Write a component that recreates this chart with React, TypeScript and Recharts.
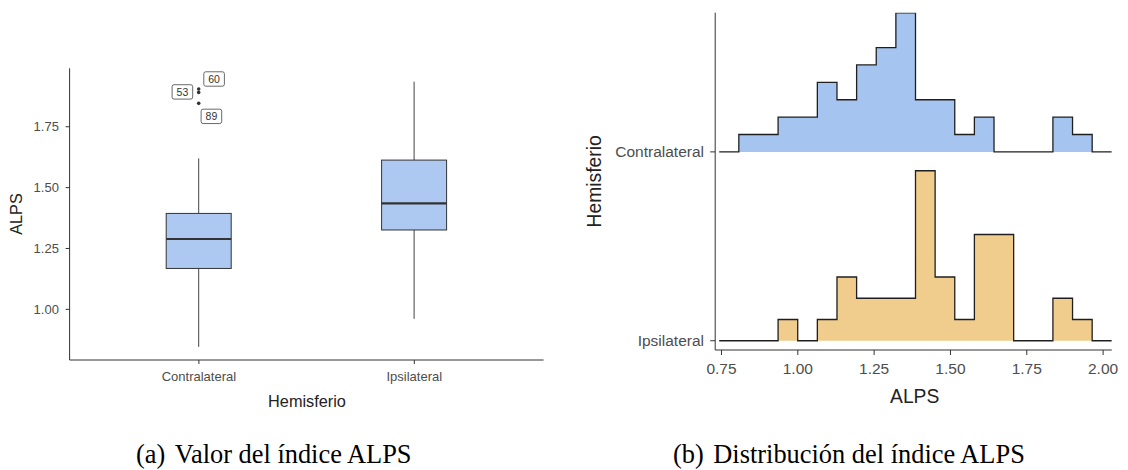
import { ComposedChart, Bar, Area, XAxis, YAxis } from 'recharts';

// Panel (a): boxplot summary per hemisphere
const hemispheres = ['Contralateral', 'Ipsilateral'];
const whiskerLow = [0.846, 0.961];
const quartile1 = [1.168, 1.326];
const medians = [1.289, 1.435];
const quartile3 = [1.394, 1.613];
const whiskerHigh = [1.62, 1.935];

const outlierValues = [1.905, 1.891, 1.846];
const outlierIds = ['60', '53', '89'];
const outlierGroup = ['Contralateral', 'Contralateral', 'Contralateral'];

const alpsTicks = [1.0, 1.25, 1.5, 1.75];

// Panel (b): binned counts per hemisphere (20 bins)
const binStart = 0.7425;
const binWidth = 0.0643;
const contralateralCounts = [0, 1, 1, 2, 2, 4, 3, 5, 6, 8, 3, 3, 1, 2, 0, 0, 0, 2, 1, 0];
const ipsilateralCounts = [0, 0, 0, 1, 0, 1, 3, 2, 2, 2, 8, 3, 1, 5, 5, 0, 0, 2, 1, 0];
const ridgeTicks = [0.75, 1.0, 1.25, 1.5, 1.75, 2.0];

const SANS = "'Liberation Sans', Arial, sans-serif";
const SERIF = "'Liberation Serif', 'Times New Roman', serif";
const AXIS = '#333333';
const TICK_TEXT = '#4d4d4d';

const boxData = hemispheres.map((name, i) => ({
  name,
  box: [quartile1[i], quartile3[i]],
  low: whiskerLow[i],
  q1: quartile1[i],
  median: medians[i],
  q3: quartile3[i],
  high: whiskerHigh[i],
  outliers: outlierValues
    .map((value, j) => ({ value, id: outlierIds[j], group: outlierGroup[j] }))
    .filter((o) => o.group === name),
}));

const toDensity = (counts: number[]) => {
  const n = counts.reduce((a, b) => a + b, 0);
  return counts.map((c) => c / (n * binWidth));
};
const contraDensity = toDensity(contralateralCounts);
const ipsiDensity = toDensity(ipsilateralCounts);
const peakDensity = Math.max(...contraDensity, ...ipsiDensity);
const ridgeScale = 0.9;

// one row per bin edge; the last edge repeats the last bin so the step closes
const ridgeData = [...contralateralCounts, 0].map((_, k) => {
  const j = Math.min(k, contralateralCounts.length - 1);
  return {
    x: binStart + k * binWidth,
    contra: 1 + (ridgeScale * contraDensity[j]) / peakDensity,
    ipsi: (ridgeScale * ipsiDensity[j]) / peakDensity,
  };
});

// where the id tags sit relative to their point
const tagOffsets: Record<string, [number, number]> = {
  '60': [15.4, -10],
  '53': [-16.3, -0.5],
  '89': [12.7, 13],
};

const BoxShape = (props: any) => {
  const { x, y, width, height, payload } = props;
  const top = Math.min(y, y + height);
  const span = Math.abs(height);
  const k = span / (payload.q3 - payload.q1);
  const py = (v: number) => top + (payload.q3 - v) * k;
  const cx = x + width / 2;
  return (
    <g>
      <line x1={cx} x2={cx} y1={py(payload.high)} y2={top} stroke="#444" strokeWidth={1} />
      <line x1={cx} x2={cx} y1={top + span} y2={py(payload.low)} stroke="#444" strokeWidth={1} />
      <rect x={x} y={top} width={width} height={span} fill="#adc9f2" stroke="#333" strokeWidth={1} />
      <line
        x1={x}
        x2={x + width}
        y1={py(payload.median)}
        y2={py(payload.median)}
        stroke="#333"
        strokeWidth={2.2}
      />
      {payload.outliers.map((o: any) => (
        <circle key={`p${o.id}`} cx={cx} cy={py(o.value)} r={1.8} fill="#333" />
      ))}
      {payload.outliers.map((o: any) => {
        const [dx, dy] = tagOffsets[o.id] ?? [12, -10];
        const tx = cx + dx;
        const ty = py(o.value) + dy;
        return (
          <g key={`t${o.id}`}>
            <rect
              x={tx - 10.3}
              y={ty - 7.2}
              width={20.6}
              height={14.4}
              rx={2}
              fill="#fff"
              stroke="#444"
              strokeWidth={0.8}
            />
            <text
              x={tx}
              y={ty}
              textAnchor="middle"
              dominantBaseline="central"
              fontSize={10.5}
              fill="#333"
            >
              {o.id}
            </text>
          </g>
        );
      })}
    </g>
  );
};

const Title = ({ x, y, size, text, rotate }: { x: number; y: number; size: number; text: string; rotate?: boolean }) => (
  <text
    x={x}
    y={y}
    textAnchor="middle"
    dominantBaseline="central"
    fontSize={size}
    fill="#222"
    fontFamily={SANS}
    transform={rotate ? `rotate(-90 ${x} ${y})` : undefined}
  >
    {text}
  </text>
);

export default function App() {
  return (
    <div
      style={{
        position: 'absolute',
        left: 0,
        top: 0,
        width: 1128,
        height: 470,
        background: '#fff',
        fontFamily: SANS,
      }}
    >
      <div style={{ position: 'absolute', left: 0, top: 0 }}>
        <ComposedChart
          width={560}
          height={420}
          data={boxData}
          margin={{ top: 68.3, right: 16.4, bottom: 30, left: 9.6 }}
        >
          <XAxis
            dataKey="name"
            type="category"
            padding={{ left: 21.6, right: 21.6 }}
            height={30}
            tickSize={4}
            tickMargin={8}
            axisLine={{ stroke: AXIS }}
            tickLine={{ stroke: AXIS }}
            tick={{ fontSize: 13, fill: TICK_TEXT }}
          />
          <YAxis
            type="number"
            width={60}
            domain={[0.792, 1.99]}
            ticks={alpsTicks}
            allowDataOverflow
            tickFormatter={(v: number) => v.toFixed(2)}
            tickSize={4}
            tickMargin={6.7}
            axisLine={{ stroke: AXIS }}
            tickLine={{ stroke: AXIS }}
            tick={{ fontSize: 13, fill: TICK_TEXT }}
          />
          <Bar dataKey="box" barSize={65} shape={BoxShape} isAnimationActive={false} />
        </ComposedChart>
      </div>

      <div style={{ position: 'absolute', left: 560, top: 0 }}>
        <ComposedChart
          width={568}
          height={420}
          data={ridgeData}
          margin={{ top: 12.7, right: 16.2, bottom: 40, left: 35.2 }}
        >
          <XAxis
            dataKey="x"
            type="number"
            domain={[0.7294, 2.0285]}
            ticks={ridgeTicks}
            allowDataOverflow
            tickFormatter={(v: number) => v.toFixed(2)}
            height={30}
            tickSize={5}
            tickMargin={8.4}
            axisLine={{ stroke: AXIS }}
            tickLine={{ stroke: AXIS }}
            tick={{ fontSize: 15.5, fill: TICK_TEXT }}
          />
          <YAxis
            type="number"
            width={120}
            domain={[-0.049, 1.737]}
            ticks={[0, 1]}
            allowDataOverflow
            tickFormatter={(v: number) => (v === 1 ? hemispheres[0] : hemispheres[1])}
            tickSize={5}
            tickMargin={6.2}
            axisLine={{ stroke: AXIS }}
            tickLine={{ stroke: AXIS }}
            tick={{ fontSize: 15.5, fill: TICK_TEXT }}
          />
          <Area
            type="stepAfter"
            dataKey="contra"
            baseValue={1}
            stroke="#1f1f1f"
            strokeWidth={1.3}
            fill="#a6c4f0"
            fillOpacity={1}
            dot={false}
            activeDot={false}
            isAnimationActive={false}
          />
          <Area
            type="stepAfter"
            dataKey="ipsi"
            baseValue={0}
            stroke="#1f1f1f"
            strokeWidth={1.3}
            fill="#f0cd8c"
            fillOpacity={1}
            dot={false}
            activeDot={false}
            isAnimationActive={false}
          />
        </ComposedChart>
      </div>

      <svg
        width={1128}
        height={470}
        style={{ position: 'absolute', left: 0, top: 0, pointerEvents: 'none' }}
      >
        <Title x={16} y={214} size={16.3} text="ALPS" rotate />
        <Title x={307} y={400.7} size={16.3} text="Hemisferio" />
        <Title x={594.7} y={181.3} size={19.3} text="Hemisferio" rotate />
        <Title x={914.7} y={396.7} size={19.3} text="ALPS" />
        <text x={136} y={463.3} fontFamily={SERIF} fontSize={26.4} fill="#000">
          (a)
          <tspan dx={9.5}>Valor del índice ALPS</tspan>
        </text>
        <text x={673} y={463.3} fontFamily={SERIF} fontSize={26.4} fill="#000">
          (b)
          <tspan dx={9.5}>Distribución del índice ALPS</tspan>
        </text>
      </svg>
    </div>
  );
}
